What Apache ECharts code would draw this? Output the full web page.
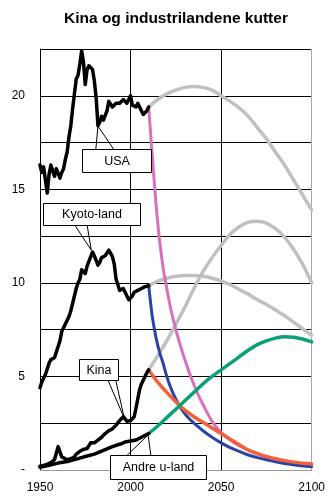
<!DOCTYPE html>
<html><head><meta charset="utf-8">
<script src="https://cdn.jsdelivr.net/npm/echarts@6/dist/echarts.min.js"></script>
<style>html,body{margin:0;padding:0;background:#fff}#c{width:328px;height:496px}</style>
</head><body><div id="c"></div>
<script>
// ---------- data ----------
const titleText = 'Kina og industrilandene kutter';
const xTicks = [1950, 2000, 2050, 2100];
const yTickLabels = ['-', '5', '10', '15', '20'];

// historical (black)
const usaHistYears = [1950,1951,1952,1953,1954,1955,1956,1957,1958,1959,1960,1961,1962,1963,1964,1965,1966,1967,1968,1969,1970,1971,1972,1973,1974,1975,1976,1977,1978,1979,1980,1981,1982,1983,1984,1985,1986,1987,1988,1989,1990,1991,1992,1993,1994,1995,1996,1997,1998,1999,2000,2001,2002,2003,2004,2005,2006,2007,2008,2009,2010];
const usaHistValues = [16.3,15.9,16.2,15.5,14.8,15.8,16.3,16.4,15.7,16.1,16.0,15.6,15.9,16.1,16.6,17.0,17.8,18.4,19.3,20.1,20.9,21.1,21.7,22.4,21.8,20.6,21.4,21.6,21.6,21.4,20.8,19.9,18.4,18.6,18.9,18.7,18.8,19.2,19.7,19.6,19.4,19.3,19.6,19.5,19.6,19.5,19.8,19.7,19.6,19.8,20.0,19.5,19.5,19.4,19.6,19.4,19.2,19.0,19.1,19.2,19.4];

const kyotoHistYears = usaHistYears;
const kyotoHistValues = [4.4,4.7,4.9,5.1,5.2,5.7,5.9,6.0,6.0,6.3,6.6,6.9,7.4,7.6,7.8,7.9,8.2,8.5,8.9,9.3,9.7,10.0,10.2,10.7,10.6,10.5,10.9,11.0,11.4,11.65,11.45,11.2,10.95,11.1,11.35,11.4,11.45,11.55,11.75,11.7,11.4,11.0,10.2,9.9,9.6,9.7,9.7,9.5,9.3,9.1,9.1,9.3,9.5,9.5,9.6,9.7,9.7,9.75,9.8,9.8,9.85];

const kinaHistYears = [1950,1952,1954,1956,1958,1959,1960,1961,1962,1963,1965,1967,1969,1970,1972,1974,1976,1977,1978,1980,1982,1984,1986,1988,1990,1992,1994,1996,1997,1998,1999,2000,2001,2002,2003,2004,2005,2006,2007,2008,2009,2010];
const kinaHistValues = [0.2,0.25,0.3,0.4,0.55,0.9,1.25,1.2,0.7,0.6,0.55,0.6,0.7,0.85,1.0,1.1,1.15,1.3,1.45,1.45,1.6,1.75,1.95,2.1,2.2,2.4,2.65,2.85,2.9,2.6,2.6,2.65,2.7,2.85,3.3,3.8,4.3,4.6,4.8,5.0,5.2,5.35];

const andreHistYears = [1950,1955,1960,1965,1970,1975,1980,1985,1990,1993,1995,1997,2000,2003,2005,2007,2008,2010];
const andreHistValues = [0.15,0.25,0.37,0.45,0.58,0.72,0.85,1.05,1.25,1.35,1.4,1.5,1.55,1.6,1.7,1.8,1.85,1.95];

// projections
const projYears = [2010,2015,2020,2025,2030,2035,2040,2045,2050,2055,2060,2065,2070,2075,2080,2085,2090,2095,2100];
const usaGrayValues   = [19.4,19.8,20.1,20.3,20.45,20.5,20.45,20.3,20.0,19.7,19.35,18.9,18.3,17.7,17.0,16.3,15.5,14.7,13.9];
const kyotoGrayValues = [9.85,10.1,10.25,10.35,10.4,10.4,10.35,10.25,10.1,9.9,9.65,9.4,9.1,8.85,8.55,8.25,7.9,7.55,7.2];
const kinaGrayValues  = [5.35,6.1,6.9,7.8,8.7,9.7,10.6,11.35,12.0,12.6,13.0,13.25,13.3,13.2,12.9,12.45,11.8,11.0,10.0];
const andreGreenValues = [1.95,2.35,2.8,3.25,3.7,4.15,4.6,5.0,5.35,5.7,6.05,6.4,6.7,6.9,7.05,7.12,7.1,7.0,6.85];
const kinaRedValues   = [5.35,4.7,4.15,3.65,3.2,2.85,2.55,2.25,1.95,1.65,1.35,1.07,0.88,0.72,0.6,0.5,0.42,0.36,0.32];

const usaPinkYears  = [2010,2012,2014,2016,2018,2020,2022,2025,2028,2031,2034,2037,2040,2045,2050,2055,2060,2070,2080,2090,2100];
const usaPinkValues = [19.4,16.8,14.3,12.3,10.8,9.7,8.7,7.5,6.5,5.6,4.8,4.1,3.5,2.6,2.0,1.6,1.3,0.85,0.55,0.35,0.22];

const kyotoBlueYears  = [2010,2011,2012,2014,2016,2018,2020,2023,2026,2030,2035,2040,2045,2050,2055,2060,2065,2070,2080,2090,2100];
const kyotoBlueValues = [9.85,9.0,8.2,7.1,6.3,5.7,5.0,4.2,3.6,3.0,2.5,2.1,1.75,1.45,1.2,1.0,0.8,0.66,0.44,0.28,0.18];

// callout annotations: text, tip [year,value], box centre [year,value]
const calloutTexts = ['USA', 'Kyoto-land', 'Kina', 'Andre u-land'];
const calloutTips = [[1982.0, 18.38], [1978.3, 11.75], [1996.5, 2.78], [2009.7, 1.87]];
const calloutBoxes = [[1992.4, 16.53], [1978.5, 13.66], [1982.1, 5.37], [2015.1, 0.15]];

// ---------- chart ----------
const zip = (xs, ys) => xs.map((x, i) => [x, ys[i]]);
const FONT = '"Liberation Sans", Arial, sans-serif';

function line(name, data, color, width, smooth) {
  return {
    name, type: 'line', data, showSymbol: false, symbol: 'none',
    smooth: smooth ? 0.35 : false,
    lineStyle: { color, width, cap: 'round', join: 'round' },
    emphasis: { disabled: true }, silent: true, animation: false
  };
}

const BLACK = '#000000', GRAY = '#c0c0c0', PINK = '#d870c0', BLUE = '#2a44a6', RED = '#f2603c', GREEN = '#0aa078';

const option = {
  animation: false,
  backgroundColor: '#fff',
  title: {
    text: titleText, left: 59, top: 6,
    textStyle: { fontFamily: FONT, fontSize: 15.5, fontWeight: 'bold', color: '#000' }
  },
  grid: { left: 40, right: 14, top: 49, bottom: 26, containLabel: false },
  xAxis: {
    type: 'value', min: xTicks[0], max: xTicks[xTicks.length - 1], interval: 50,
    axisLine: { show: true, onZero: false, lineStyle: { color: '#999', width: 1 } },
    axisTick: { show: false },
    axisLabel: { color: '#000', fontFamily: FONT, fontSize: 12, margin: 12,
      formatter: v => xTicks.includes(v) ? String(v) : '' },
    splitLine: { show: true, lineStyle: { color: ['#000', '#000', '#000', '#a8a8a8'], width: 1 } }
  },
  yAxis: {
    type: 'value', min: 0, max: 22.5, interval: 2.5,
    axisLine: { show: true, lineStyle: { color: '#000', width: 1 } },
    axisTick: { show: false },
    axisLabel: { color: '#000', fontFamily: FONT, fontSize: 12, margin: 15,
      formatter: v => (v % 5 === 0) ? yTickLabels[v / 5] : '' },
    splitLine: { show: true, lineStyle: { color: ['#999', '#000', '#000', '#000', '#000', '#000', '#000', '#000', '#000', '#000'], width: 1 } }
  },
  series: [
    line('USA grå', zip(projYears, usaGrayValues), GRAY, 3.5, true),
    line('Kyoto grå', zip(projYears, kyotoGrayValues), GRAY, 3.5, true),
    line('Kina grå', zip(projYears, kinaGrayValues), GRAY, 3.5, true),
    line('USA kutt', zip(usaPinkYears, usaPinkValues), PINK, 3, true),
    line('Kyoto kutt', zip(kyotoBlueYears, kyotoBlueValues), BLUE, 3, true),
    line('Kina kutt', zip(projYears, kinaRedValues), RED, 3.5, true),
    line('Andre u-land', zip(projYears, andreGreenValues), GREEN, 3.5, true),
    line('USA', zip(usaHistYears, usaHistValues), BLACK, 3.5, false),
    line('Kyoto-land', zip(kyotoHistYears, kyotoHistValues), BLACK, 3.5, false),
    line('Kina', zip(kinaHistYears, kinaHistValues), BLACK, 3.5, false),
    line('Andre u-land hist', zip(andreHistYears, andreHistValues), BLACK, 3.5, false)
  ]
};

const chart = echarts.init(document.getElementById('c'), null, { renderer: 'canvas' });
chart.setOption(option);

const boxSizes = [[69, 23], [97, 22], [39, 21], [96, 24]];
const baseOffsets = [[-21, -3], [-31, -8], [1, 13], [-31, -7]];
const els = [];
calloutTexts.forEach((t, i) => {
  const tip = chart.convertToPixel({ gridIndex: 0 }, calloutTips[i]);
  const c = chart.convertToPixel({ gridIndex: 0 }, calloutBoxes[i]);
  const w = boxSizes[i][0], h = boxSizes[i][1];
  const x0 = Math.round(c[0] - w / 2) + 0.5, y0 = Math.round(c[1] - h / 2) + 0.5;
  els.push({ type: 'polyline', silent: true, z: 100,
    shape: { points: [[c[0] + baseOffsets[i][0], y0], [tip[0], tip[1]], [c[0] + baseOffsets[i][1], y0]] },
    style: { stroke: '#000', lineWidth: 1, fill: null } });
  els.push({ type: 'rect', silent: true, z: 101,
    shape: { x: x0, y: y0, width: w, height: h },
    style: { fill: '#fff', stroke: '#000', lineWidth: 1 } });
  els.push({ type: 'text', silent: true, z: 102, x: x0 + w / 2, y: y0 + h / 2 + 0.5,
    style: { text: t, font: '12.5px ' + FONT, fill: '#000', align: 'center', verticalAlign: 'middle' } });
});
chart.setOption({ graphic: els });
</script>
</body></html>
